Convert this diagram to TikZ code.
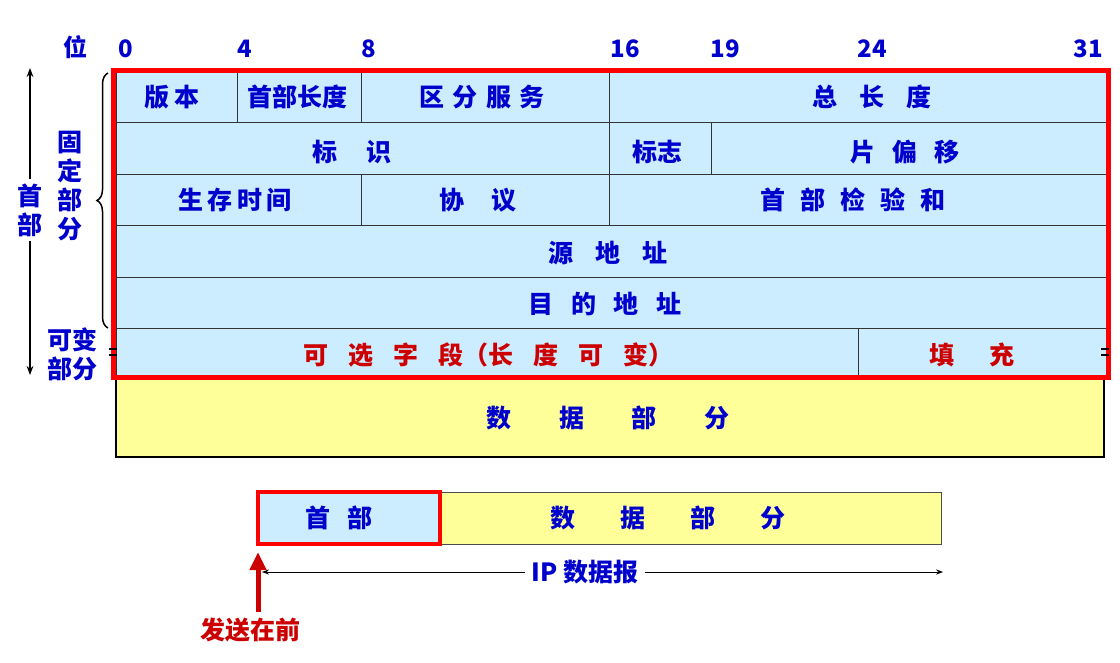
\documentclass[tikz,border=0pt]{standalone}
\usepackage{fontspec}
\setmainfont{Noto Sans CJK SC}
\usetikzlibrary{decorations.pathreplacing,arrows.meta}
\definecolor{lb}{HTML}{CCECFF}
\definecolor{ly}{HTML}{FFFF99}
\definecolor{tb}{HTML}{0000CC}
\definecolor{tr}{HTML}{CC0000}
\tikzset{
 cell/.style={draw=black!80,line width=1pt,fill=lb},
 lbl/.style={text=tb,font=\fontsize{25}{29}\selectfont\bfseries,inner sep=0pt},
 rlbl/.style={text=tr,font=\fontsize{25}{29}\selectfont\bfseries,inner sep=0pt},
 bit/.style={text=tb,font=\fontsize{24}{26}\selectfont\bfseries,inner sep=0pt}
}
\begin{document}
\begin{tikzpicture}[x=1pt,y=-1pt]
\useasboundingbox (0,0) rectangle (1120,662);
% data row
\draw[line width=2pt,fill=ly] (116,378) rectangle (1104,457);
\node[lbl] (d) at (608,418) {数\hspace{1.9em}据\hspace{1.9em}部\hspace{1.9em}分};
% header rows
\foreach \xa/\ya/\xb/\yb in {116/72/237/122,237/72/361/122,361/72/609/122,609/72/1107/122,
 116/122/609/174,609/122/711/174,711/122/1107/174,
 116/174/361/225,361/174/609/225,609/174/1107/225,
 116/225/1107/277,116/277/1107/328,116/328/858/378,858/328/1107/378}
 \draw[cell] (\xa,\ya) rectangle (\xb,\yb);
\node[lbl] (v) at (172,97) {版\,本};
\node[lbl] (hl) at (297,97) {首部长度};
\node[lbl] (ds) at (482,97) {区\,\,分\,\,服\,\,务};
\node[lbl] (tl) at (872,97) {总\hspace{0.9em}长\hspace{0.9em}度};
\node[lbl] (id) at (352,152) {标\hspace{1.2em}识};
\node[lbl] (fl) at (657,152) {标志};
\node[lbl] (fo) at (905,152) {片\hspace{0.7em}偏\hspace{0.7em}移};
\node[lbl] (ttl) at (235,200) {生\,存\,时\,间};
\node[lbl] (pr) at (478,200) {协\hspace{1.1em}议};
\node[lbl] (ck) at (853,200) {首\hspace{0.6em}部\hspace{0.6em}检\hspace{0.6em}验\hspace{0.6em}和};
\node[lbl] (src) at (608,253) {源\hspace{0.9em}地\hspace{0.9em}址};
\node[lbl] (dst) at (605,304) {目\hspace{0.7em}的\hspace{0.7em}地\hspace{0.7em}址};
\node[rlbl] (opt) at (488,355) {可\hspace{0.8em}选\hspace{0.8em}字\hspace{0.8em}段（长\hspace{0.8em}度\hspace{0.8em}可\hspace{0.8em}变）};
\node[rlbl] (pad) at (972,355) {填\hspace{1.4em}充};
% red frame
\draw[red,line width=5pt] (113,70) rectangle (1108,377);
% eq marks
\foreach \x in {113,1105}{\draw[line width=1.5pt] (\x-4,349)--(\x+4,349) (\x-4,355)--(\x+4,355);}
% bit numbers
\node[bit] at (75,47) {位};
\foreach \x/\t in {126/0,245/4,369/8,625/16,725/19,872/24,1088/31}
 \node[bit] at (\x,49) {\t};
% brace
\draw[line width=1.5pt,decorate,decoration={brace,amplitude=11pt}] (108,328) -- (108,73);
\node[lbl,align=center] (fx) at (70,186) {固\\定\\部\\分};
\node[lbl,align=center] (kb) at (72,354) {可变\\部分};
% left arrow
\node[lbl,align=center,inner ysep=4pt] (sb) at (30,210) {首\\部};
\draw[-{Stealth[length=9pt]},line width=1.5pt] (sb.north) -- (30,68);
\draw[-{Stealth[length=9pt]},line width=1.5pt] (sb.south) -- (30,375);
% bottom
\draw[fill=ly,draw=black!70,line width=0.8pt] (440,492) rectangle (941,544);
\draw[fill=lb,draw=red,line width=4pt] (258,492) rectangle (440,544);
\node[lbl] (hb) at (339,518) {首\hspace{0.7em}部};
\node[lbl] (db) at (668,518) {数\hspace{1.8em}据\hspace{1.8em}部\hspace{1.8em}分};
\coordinate (la) at (262,572);
\coordinate (ra) at (943,572);
\node[lbl,fill=white,inner xsep=6pt] (ip) at (585,572) {IP 数据报};
\draw[-{Stealth[length=7pt]},line width=0.8pt] (ip.west) -- (la);
\draw[-{Stealth[length=7pt]},line width=0.8pt] (ip.east) -- (ra);
\node[rlbl] (fs) at (250,630) {发送在前};
\draw[-{Triangle[length=18pt,width=16pt]},line width=5pt,color=tr] (258,612) -- (258,552);
\end{tikzpicture}
\end{document}
